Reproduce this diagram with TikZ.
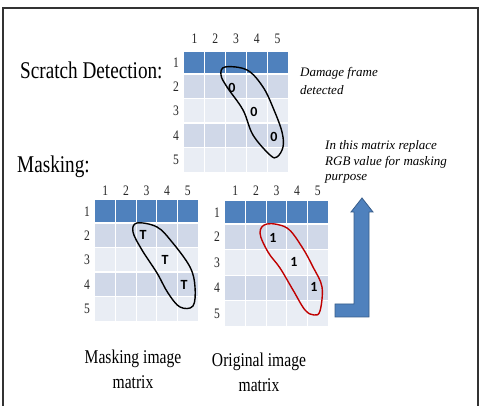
\documentclass[tikz,border=0pt]{standalone}
\usepackage{fontspec}
\usepackage{graphicx}
\setmainfont{Liberation Serif}
\newfontfamily\carlito{Carlito}
\definecolor{hdr}{HTML}{4F81BD}
\definecolor{rowA}{HTML}{D0D8E8}
\definecolor{rowB}{HTML}{E9EDF4}
\definecolor{arrowline}{HTML}{385D8A}
\definecolor{redloop}{HTML}{C00000}
\definecolor{framecol}{HTML}{333333}
\newcommand\nx[1]{\scalebox{0.8}[1]{#1}}
% #1 name, #2 x0, #3 y0, #4 col width, #5 header height, #6 row height, #7 col label gap
\newcommand\mymatrix[7]{%
  \begin{scope}[shift={(#2,#3)}]
    \fill[hdr] (0,0) rectangle (5*#4,#5);
    \foreach \r in {2,...,5}{%
      \pgfmathsetmacro\ya{#5+(\r-2)*#6}%
      \pgfmathtruncatemacro\ev{mod(\r,2)}%
      \ifnum\ev=0
        \fill[rowA] (0,\ya) rectangle (5*#4,\ya+#6);
      \else
        \fill[rowB] (0,\ya) rectangle (5*#4,\ya+#6);
      \fi
      \node[lbl] (#1-r\r) at (-8,\ya+0.5*#6) {\nx{\r}};
    }
    \node[lbl] (#1-r1) at (-8,0.5*#5) {\nx{1}};
    \foreach \c in {1,...,4}
      \draw[grid] (\c*#4,0) -- (\c*#4,#5+4*#6);
    \foreach \r in {0,...,3}
      \draw[grid] (0,#5+\r*#6) -- (5*#4,#5+\r*#6);
    \foreach \c in {1,...,5}
      \node[lbl] (#1-c\c) at (\c*#4-0.5*#4,-#7) {\nx{\c}};
  \end{scope}}
\begin{document}
\begin{tikzpicture}[x=1pt,y=-1pt,
  lbl/.style={inner sep=0pt,font=\fontsize{14.5}{14.5}\selectfont,text=black!85},
  grid/.style={white,line width=1.3pt},
  cellval/.style={inner sep=0pt,font=\carlito\bfseries\fontsize{14}{14}\selectfont},
  loop/.style={line width=1.4pt,line join=round},
  note/.style={inner sep=0pt,anchor=base west,font=\itshape\fontsize{13}{13}\selectfont},
  title/.style={inner sep=0pt,anchor=base west,font=\fontsize{24}{24}\selectfont},
  caption/.style={inner sep=0pt,anchor=base,font=\fontsize{19.5}{19.5}\selectfont}]
\useasboundingbox (0,0) rectangle (480,406);
\fill[white] (0,0) rectangle (480,406);
\draw[framecol,line width=1.5pt] (3,406) -- (3,8) -- (478,8) -- (478,406);

% matrices
\mymatrix{top}{184}{52}{20.8}{22}{24.5}{13.5}
\mymatrix{mask}{95}{200}{20.6}{23}{24.5}{9}
\mymatrix{orig}{225}{201}{20.6}{23}{25.6}{10}

% titles
\node[title] (scratch) at (20,79) {\nx{Scratch Detection:}};
\node[title] (masking) at (17,173) {\nx{Masking:}};

% notes
\node[note] (dmg1) at (300,77) {Damage frame};
\node[note] (dmg2) at (300,95) {detected};
\node[note] (rgb1) at (325,150) {In this matrix replace};
\node[note] (rgb2) at (325,166) {RGB value for masking};
\node[note] (rgb3) at (325,181) {purpose};

% captions
\node[caption] (mcap1) at (133,364) {\nx{Masking image}};
\node[caption] (mcap2) at (133,389) {\nx{matrix}};
\node[caption] (ocap1) at (259,367) {\nx{Original image}};
\node[caption] (ocap2) at (259,392) {\nx{matrix}};

% cell values
\node[cellval] (z1) at (232,88) {0};
\node[cellval] (z2) at (254,112) {0};
\node[cellval] (z3) at (274,137) {0};
\node[cellval] (t1) at (143,235) {T};
\node[cellval] (t2) at (165,260) {T};
\node[cellval] (t3) at (184,285) {T};
\node[cellval] (o1) at (273,238) {1};
\node[cellval] (o2) at (294,262) {1};
\node[cellval] (o3) at (314,287) {1};

% loops
\draw[loop,black] plot[smooth cycle,tension=0.6] coordinates {
  (225,67) (247,70) (263,87) (274,110) (282,132) (283,147) (277,157)
  (270,155) (253,135) (243,110) (227,87) (221,75)};
\draw[loop,black] plot[smooth cycle,tension=0.6] coordinates {
  (137,223) (157,227) (172,242) (190,267) (195,287) (193,306)
  (180,307) (168,293) (157,273) (142,250) (133,232)};
\draw[loop,redloop] plot[smooth cycle,tension=0.6] coordinates {
  (267,224) (287,228) (302,247) (313,267) (322,287) (320,311)
  (314,315) (305,310) (293,290) (280,268) (268,252) (260,233)};

% arrow
\draw[fill=hdr,draw=arrowline,line width=0.8pt,line join=miter]
  (335,304) -- (354,304) -- (354,212) -- (351,212) -- (362,198)
  -- (373,212) -- (369,212) -- (369,317) -- (335,317) -- cycle;
\end{tikzpicture}
\end{document}
